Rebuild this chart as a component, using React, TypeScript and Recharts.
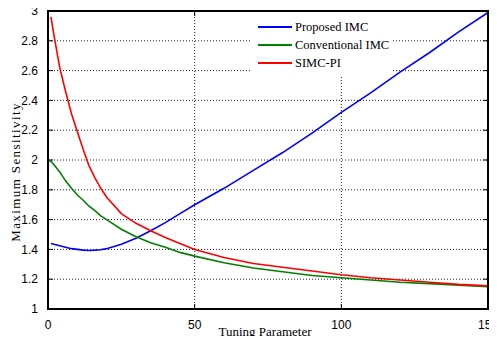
import React from "react";
import {
  LineChart,
  Line,
  XAxis,
  YAxis,
  CartesianGrid,
  ReferenceLine,
} from "recharts";

// tuning parameter values (x) and max sensitivity for each controller
const tuning = [0, 1, 2, 4, 6, 8, 10, 12, 14, 16, 18, 20, 25, 30, 35, 40, 45, 50, 60, 70, 80, 90, 100, 110, 120, 130, 140, 150];
const proposedImc = [null, 1.44, 1.435, 1.425, 1.415, 1.405, 1.4, 1.395, 1.393, 1.395, 1.398, 1.405, 1.435, 1.475, 1.525, 1.58, 1.64, 1.7, 1.81, 1.93, 2.05, 2.18, 2.32, 2.45, 2.59, 2.72, 2.86, 2.99];
const conventionalImc = [2.0, 1.99, 1.97, 1.92, 1.86, 1.81, 1.765, 1.73, 1.69, 1.66, 1.625, 1.6, 1.535, 1.485, 1.445, 1.415, 1.38, 1.355, 1.31, 1.275, 1.25, 1.225, 1.21, 1.195, 1.18, 1.17, 1.16, 1.15];
const simcPi = [null, 2.96, 2.84, 2.62, 2.46, 2.31, 2.19, 2.07, 1.96, 1.88, 1.81, 1.75, 1.64, 1.575, 1.525, 1.48, 1.44, 1.4, 1.345, 1.305, 1.28, 1.255, 1.23, 1.21, 1.195, 1.18, 1.165, 1.155];

const xTicks = [0, 50, 100, 150];
const yTicks = [1, 1.2, 1.4, 1.6, 1.8, 2, 2.2, 2.4, 2.6, 2.8, 3];

const series = [
  { key: "proposed", name: "Proposed IMC", color: "#0000ff" },
  { key: "conventional", name: "Conventional IMC", color: "#008000" },
  { key: "simc", name: "SIMC-PI", color: "#ff0000" },
];

const data = tuning.map((t, i) => ({
  t,
  proposed: proposedImc[i],
  conventional: conventionalImc[i],
  simc: simcPi[i],
}));

const sans = "Liberation Sans";
const serif = "Liberation Serif";

// inward tick marks (~5px) in data units
const dx = 1.7;
const dy = 0.034;

const plot = { left: 48, top: 11, right: 9, bottom: 35 };

const App = () => {
  return (
    <div style={{ position: "relative", margin: -8, width: 497, height: 344, background: "#fff" }}>
      <LineChart
        width={497}
        height={344}
        data={data}
        margin={{ top: plot.top, right: plot.right, left: 0, bottom: 0 }}
      >
        <CartesianGrid stroke="#222" strokeDasharray="1 2" />
        <XAxis
          dataKey="t"
          type="number"
          domain={[0, 150]}
          ticks={xTicks}
          interval={0}
          height={plot.bottom}
          stroke="#000"
          strokeWidth={2}
          tickLine={false}
          tickMargin={5}
          tick={{ fontFamily: sans, fontSize: 12, fill: "#000" }}
        />
        <YAxis
          type="number"
          domain={[1, 3]}
          ticks={yTicks}
          interval={0}
          width={plot.left}
          stroke="#000"
          strokeWidth={2}
          tickLine={false}
          tickMargin={4}
          tick={{ fontFamily: sans, fontSize: 12, fill: "#000" }}
        />
        {/* top and right edges of the box */}
        <ReferenceLine y={3} stroke="#000" strokeWidth={2} ifOverflow="extendDomain" />
        <ReferenceLine x={150} stroke="#000" strokeWidth={2} ifOverflow="extendDomain" />
        {xTicks.slice(1, -1).map((t) => (
          <ReferenceLine key={`bx${t}`} segment={[{ x: t, y: 1 }, { x: t, y: 1 + dy }]} stroke="#000" />
        ))}
        {xTicks.slice(1, -1).map((t) => (
          <ReferenceLine key={`tx${t}`} segment={[{ x: t, y: 3 }, { x: t, y: 3 - dy }]} stroke="#000" />
        ))}
        {yTicks.slice(1, -1).map((v) => (
          <ReferenceLine key={`ly${v}`} segment={[{ x: 0, y: v }, { x: dx, y: v }]} stroke="#000" />
        ))}
        {yTicks.slice(1, -1).map((v) => (
          <ReferenceLine key={`ry${v}`} segment={[{ x: 150, y: v }, { x: 150 - dx, y: v }]} stroke="#000" />
        ))}
        {series.map((s) => (
          <Line
            key={s.key}
            type="linear"
            dataKey={s.key}
            name={s.name}
            stroke={s.color}
            strokeWidth={1.6}
            dot={false}
            isAnimationActive={false}
          />
        ))}
      </LineChart>
      {/* axes box frame */}
      <div
        style={{
          position: "absolute",
          left: plot.left - 1,
          top: plot.top - 1,
          width: 497 - plot.left - plot.right - 2,
          height: 344 - plot.top - plot.bottom - 2,
          border: "2px solid #000",
          pointerEvents: "none",
        }}
      />
      <div
        style={{
          position: "absolute",
          left: 16,
          top: 172,
          transform: "translate(-50%, -50%) rotate(-90deg)",
          whiteSpace: "nowrap",
          fontFamily: serif,
          fontSize: 13,
          letterSpacing: 1.4,
          lineHeight: "14px",
        }}
      >
        Maximum Sensitivity
      </div>
      <div
        style={{
          position: "absolute",
          left: 265,
          top: 325,
          transform: "translateX(-50%)",
          whiteSpace: "nowrap",
          fontFamily: serif,
          fontSize: 13,
          lineHeight: "14px",
        }}
      >
        Tuning Parameter
      </div>
      <div
        style={{
          position: "absolute",
          left: 251,
          top: 12,
          width: 141,
          height: 63,
          background: "#fff",
          fontFamily: serif,
          fontSize: 12.5,
          color: "#000",
        }}
      >
        {series.map((s, i) => (
          <div
            key={s.key}
            style={{ position: "absolute", left: 7, top: 6 + i * 18, height: 18, display: "flex", alignItems: "center", whiteSpace: "nowrap" }}
          >
            <span style={{ display: "inline-block", width: 34, height: 2, background: s.color, marginRight: 3 }} />
            <span>{s.name}</span>
          </div>
        ))}
      </div>
    </div>
  );
};

export default App;
